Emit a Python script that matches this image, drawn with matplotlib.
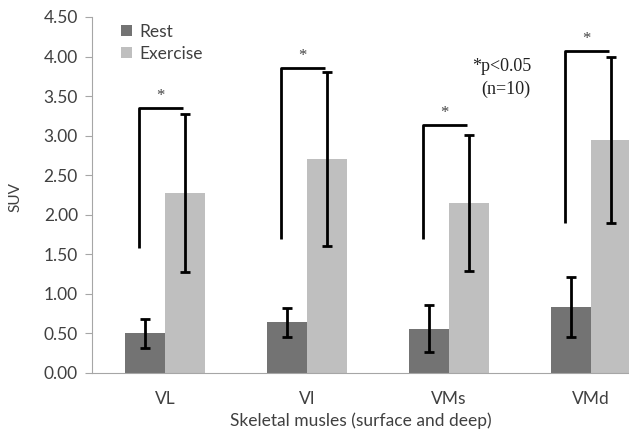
import matplotlib.pyplot as plt
import numpy as np

muscles = ['VL', 'VI', 'VMs', 'VMd']
rest = [0.50, 0.64, 0.56, 0.83]
rest_err = [0.18, 0.18, 0.30, 0.38]
exercise = [2.27, 2.71, 2.15, 2.94]
exercise_err = [1.00, 1.10, 0.86, 1.05]

# significance brackets (bottom of left leg, height of top)
bracket_low = [1.58, 1.69, 1.69, 1.90]
bracket_top = [3.35, 3.86, 3.14, 4.07]

x = np.arange(len(muscles))
w = 0.28

fig = plt.figure(figsize=(6.29, 4.30), dpi=100)
ax = fig.add_axes([0.146, 0.1326, 0.854, 0.828])

ax.bar(x - w/2, rest, w, color='#737373', label='Rest')
ax.bar(x + w/2, exercise, w, color='#bfbfbf', label='Exercise')
ax.errorbar(x - w/2, rest, yerr=rest_err, fmt='none', ecolor='black', elinewidth=2, capsize=3.5, capthick=2)
ax.errorbar(x + w/2, exercise, yerr=exercise_err, fmt='none', ecolor='black', elinewidth=2, capsize=3.5, capthick=2)

for i in range(len(muscles)):
    xl = x[i] - w/2 - 0.045
    xr = x[i] + w/2 - 0.015
    ax.plot([xl, xl, xr], [bracket_low[i], bracket_top[i], bracket_top[i]], color='black', lw=2, solid_capstyle='butt')
    ax.text((xl + xr)/2, bracket_top[i] + 0.15, '*', ha='center', va='center', fontsize=12, family='Liberation Serif', color='#444444')

ax.text(2.37, 3.87, '*p<0.05', ha='center', va='center', fontsize=13, family='Liberation Serif', color='#222222')
ax.text(2.40, 3.58, '(n=10)', ha='center', va='center', fontsize=13, family='Liberation Serif', color='#222222')

ax.set_xlim(-0.514, 3.268)
ax.set_ylim(0, 4.5)
ax.set_yticks(np.arange(0, 4.51, 0.5))
ax.set_yticklabels(['%.2f' % v for v in np.arange(0, 4.51, 0.5)])
ax.set_xticks(x)
ax.set_xticklabels(muscles)

for s in ['top', 'right']:
    ax.spines[s].set_visible(False)
for s in ['left', 'bottom']:
    ax.spines[s].set_color('#a6a6a6')
ax.tick_params(axis='y', direction='out', length=5, color='#a6a6a6', labelsize=12.5, labelcolor='#404040', pad=5)
ax.tick_params(axis='x', length=0, labelsize=12.5, labelcolor='#404040', pad=13)
for lab in ax.get_xticklabels() + ax.get_yticklabels():
    lab.set_family('Lato')

ax.set_ylabel('SUV', fontsize=11, color='#404040', family='Lato')
ax.yaxis.set_label_coords(-0.13, 0.494)
ax.set_xlabel('Skeletal musles (surface and deep)', fontsize=12.5, color='#404040', family='Lato', labelpad=4)

ax.legend(loc='upper left', bbox_to_anchor=(0.026, 1.025), frameon=False, handlelength=0.6, handleheight=0.6,
          handletextpad=0.45, labelspacing=0.35, prop={'family': 'Lato', 'size': 12.5}, labelcolor='#404040')

fig.savefig('out.png', dpi=100)
